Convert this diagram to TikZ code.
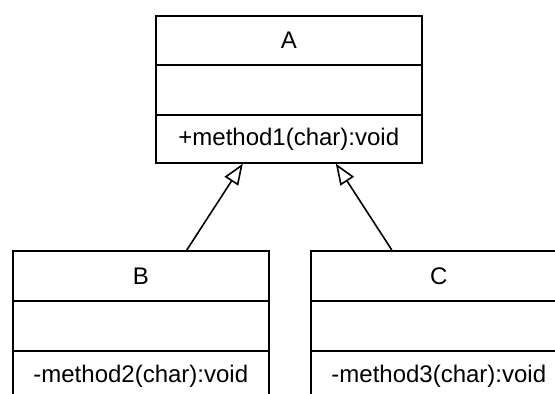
\documentclass[tikz,border=0pt]{standalone}
\usepackage{fontspec}
\setmainfont{Liberation Sans}
\usetikzlibrary{arrows.meta,calc}
\begin{document}
\begin{tikzpicture}[x=1pt,y=-1pt,
  comp/.style={draw=black, line width=1.6pt, inner sep=0pt, anchor=north west,
    font=\fontsize{24}{28}\selectfont},
  wa/.style={comp, minimum width=266pt},
  wb/.style={comp, minimum width=256pt},
  inherit/.style={draw=black, line width=1.6pt,
    -{Triangle[open,length=21pt,width=16pt,line width=1.6pt]}}]
\useasboundingbox (0,0) rectangle (555,394);
\clip (0,0) rectangle (555,394);
% class A
\node[wa, minimum height=49pt] (An) at (155,15) {A};
\node[wa, minimum height=50pt] (Aa) at (155,64) {};
\node[wa, minimum height=48pt] (Am) at (155,114) {+method1(char):void};
% class B
\node[wb, minimum height=50pt] (Bn) at (12,250) {B};
\node[wb, minimum height=50pt] (Ba) at (12,300) {};
\node[wb, minimum height=50pt] (Bm) at (12,350) {-method2(char):void};
% class C
\node[wb, minimum height=50pt] (Cn) at (310,250) {C};
\node[wb, minimum height=50pt] (Ca) at (310,300) {};
\node[wb, minimum height=50pt] (Cm) at (310,350) {-method3(char):void};
% generalisations
\draw[inherit] ($(Bn.north)+(46,0)$) -- ($(Am.south)+(-46,0)$);
\draw[inherit] ($(Cn.north)+(-47,0)$) -- ($(Am.south)+(47,0)$);
\end{tikzpicture}
\end{document}
